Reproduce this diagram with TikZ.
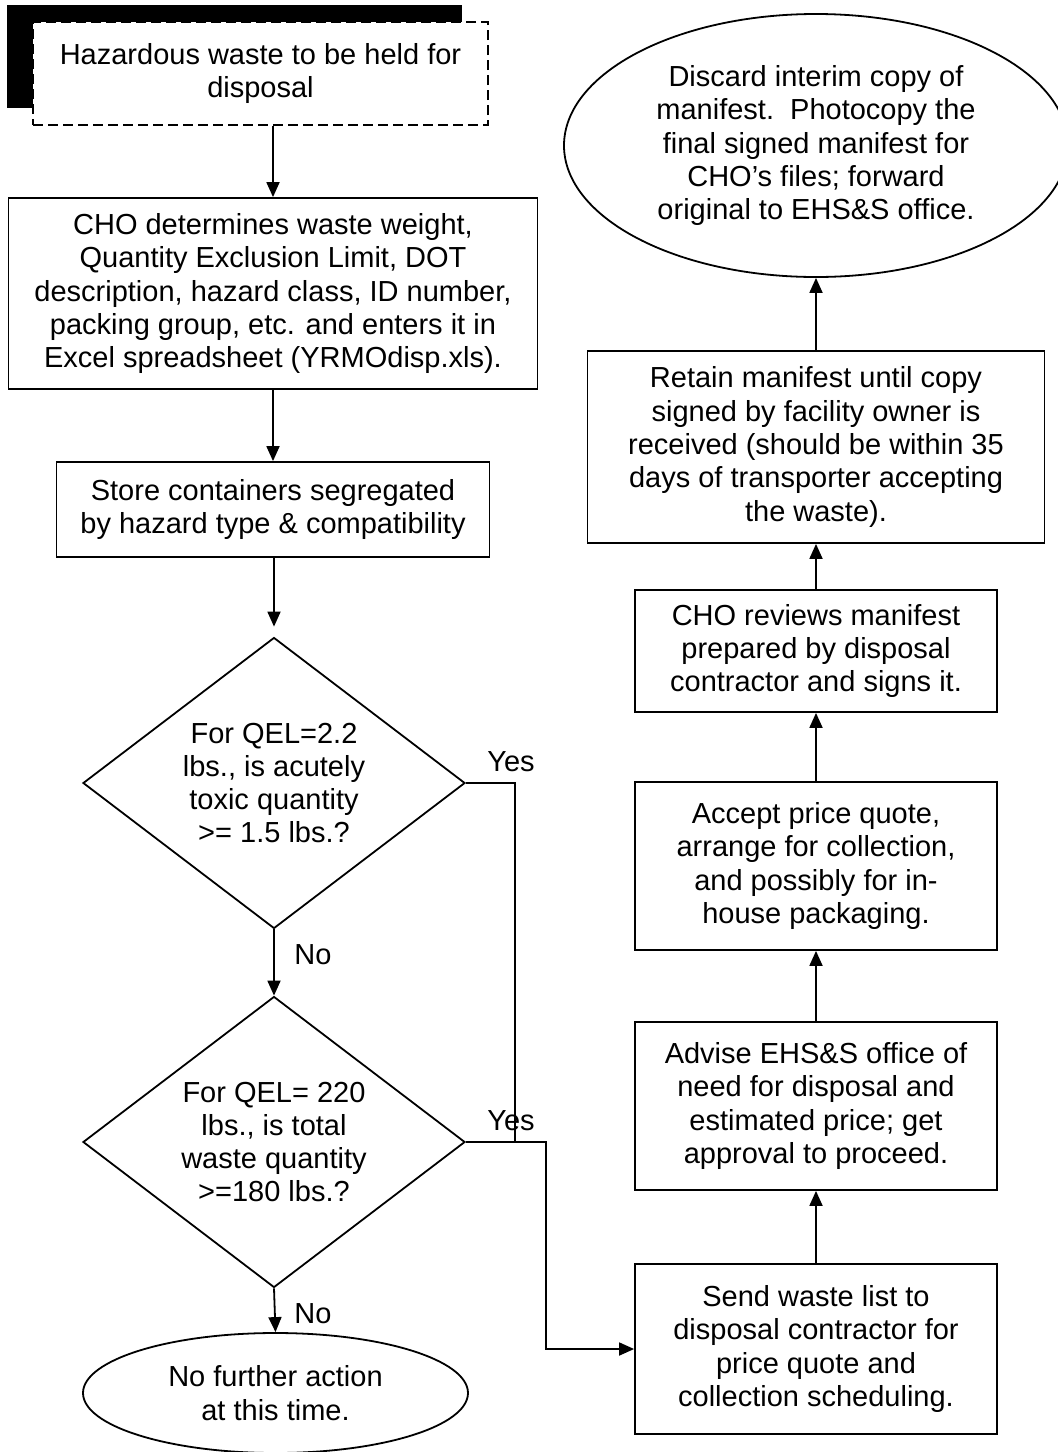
\documentclass[tikz,border=0pt]{standalone}
\usepackage{fontspec}
\setmainfont{Liberation Sans}
\usetikzlibrary{shapes}
\usetikzlibrary{shadows}
\usetikzlibrary{arrows.meta}
\tikzset{
  stepbox/.style={draw, line width=1.8pt, align=center, inner sep=0pt,
    font=\fontsize{29}{33.3}\selectfont},
  question/.style={stepbox, diamond, aspect=1.31, inner sep=-10pt},
  terminal/.style={stepbox, ellipse},
  answer/.style={inner sep=0pt, font=\fontsize{29}{33.3}\selectfont},
  flow/.style={->, >={Triangle[length=15pt,width=13pt]}, line width=1.8pt},
  link/.style={line width=1.8pt},
}

\begin{document}
\begin{tikzpicture}[x=1pt, y=-1pt]
\useasboundingbox (0,0) rectangle (1058,1452);
\clip (0,0) rectangle (1058,1452);

        % left column
        \node[stepbox, fill=white, dash pattern=on 10pt off 5pt,
              general shadow={fill=black, shadow xshift=-26pt, shadow yshift=17pt},
              minimum width=455, minimum height=103] (hold) at (260.5,73.5)
              {Hazardous waste to be held for\\disposal};
        \node[stepbox, minimum width=529, minimum height=191] (weigh) at (273,293.5)
              {CHO determines waste weight,\\Quantity Exclusion Limit, DOT\\description, hazard class, ID number,\\packing group, etc. and enters it in\\Excel spreadsheet (YRMOdisp.xls).};
        \node[stepbox, minimum width=433, minimum height=95] (store) at (273,509.5)
              {Store containers segregated\\by hazard type \& compatibility};
        \node[question, minimum width=382, minimum height=291] (toxic) at (274,783)
              {For QEL=2.2\\lbs., is acutely\\toxic quantity\\>= 1.5 lbs.?};
        \node[question, minimum width=382, minimum height=291] (total) at (274,1142)
              {For QEL= 220\\lbs., is total\\waste quantity\\>=180 lbs.?};
        \node[terminal, minimum width=385, minimum height=120] (none) at (275.5,1393)
              {No further action\\at this time.};

        % right column, read from the bottom up
        \node[stepbox, minimum width=362, minimum height=170] (send) at (816,1349)
              {Send waste list to\\disposal contractor for\\price quote and\\collection scheduling.};
        \node[stepbox, minimum width=362, minimum height=168] (advise) at (816,1106)
              {Advise EHS\&S office of\\need for disposal and\\estimated price; get\\approval to proceed.};
        \node[stepbox, minimum width=362, minimum height=168] (accept) at (816,866)
              {Accept price quote,\\arrange for collection,\\and possibly for in-\\house packaging.};
        \node[stepbox, minimum width=362, minimum height=122] (review) at (816,651)
              {CHO reviews manifest\\prepared by disposal\\contractor and signs it.};
        \node[stepbox, minimum width=457, minimum height=192] (retain) at (816,447)
              {Retain manifest until copy\\signed by facility owner is\\received (should be within 35\\days of transporter accepting\\the waste).};
        \node[terminal, minimum width=504, minimum height=263] (discard) at (816,145.5)
              {Discard interim copy of\\manifest.\ \ Photocopy the\\final signed manifest for\\CHO’s files; forward\\original to EHS\&S office.};

        \node[answer] (no1) at (313,955) {No};
        \node[answer] (no2) at (313,1314) {No};
        \node[answer] (yes1) at (511,762) {Yes};
        \node[answer] (yes2) at (511,1121) {Yes};

        \draw[flow] (hold.south -| weigh.north) -- (weigh.north);
        \draw[flow] (weigh.south) -- (store.north);
        \draw[flow, shorten >=10pt] (store.south -| toxic.north) -- (toxic.north);
        \draw[flow] (toxic.south) -- (total.north);
        \draw[flow] (total.south) -- (none.north);

        \coordinate (join) at (515,1142);
        \coordinate (bend) at (546,1142);
        \draw[link] (toxic.east) -| (join);
        \draw[flow] (total.east) -- (bend) |- (send.west);

        \draw[flow] (send.north) -- (advise.south);
        \draw[flow] (advise.north) -- (accept.south);
        \draw[flow] (accept.north) -- (review.south);
        \draw[flow] (review.north) -- (retain.south);
        \draw[flow] (retain.north) -- (discard.south);

\end{tikzpicture}
\end{document}
